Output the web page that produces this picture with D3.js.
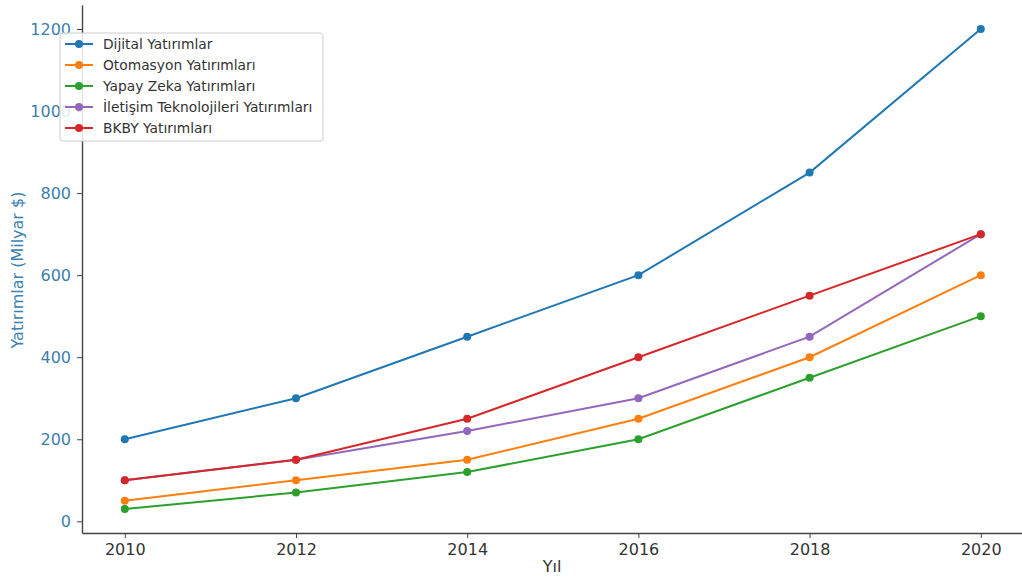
<!DOCTYPE html>
<html>
<head>
<meta charset="utf-8">
<script src="https://cdn.jsdelivr.net/npm/d3@7"></script>
<style>
  body { margin: 0; background: #fff; }
  svg { font-family: "DejaVu Sans", sans-serif; }
</style>
</head>
<body>
<svg id="chart" width="1022" height="578"></svg>
<script>
const years = [2010, 2012, 2014, 2016, 2018, 2020];
const seriesNames = ["Dijital Yatırımlar", "Otomasyon Yatırımları", "Yapay Zeka Yatırımları", "İletişim Teknolojileri Yatırımları", "BKBY Yatırımları"];
const dijital = [200, 300, 450, 600, 850, 1200];
const otomasyon = [50, 100, 150, 250, 400, 600];
const yapayZeka = [30, 70, 120, 200, 350, 500];
const iletisim = [100, 150, 220, 300, 450, 700];
const bkby = [100, 150, 250, 400, 550, 700];
const yTicks = [0, 200, 400, 600, 800, 1000, 1200];
const colors = ["#1f77b4", "#ff7f0e", "#2ca02c", "#9467bd", "#d62728"];

const allSeries = [dijital, otomasyon, yapayZeka, iletisim, bkby];

const svg = d3.select("#chart");

const x = d3.scaleLinear()
    .domain([2009.5, 2020.5])
    .range([82, 1023.6]);

const y = d3.scaleLinear()
    .domain([-28.5, 1258.5])
    .range([533, 5]);

// axes
const xAxis = svg.append("g")
    .attr("transform", "translate(0,533)")
    .call(d3.axisBottom(x).tickValues(years).tickFormat(d3.format("d"))
        .tickSize(5).tickSizeOuter(0).tickPadding(6));
xAxis.select(".domain").attr("stroke", "#444").attr("stroke-width", 1.4);
xAxis.selectAll(".tick line").attr("stroke", "#444");
xAxis.selectAll("text").attr("font-size", 16).attr("fill", "#333")
    .attr("font-family", "DejaVu Sans");

const yAxis = svg.append("g")
    .attr("transform", "translate(82,0)")
    .call(d3.axisLeft(y).tickValues(yTicks).tickFormat(d3.format("d"))
        .tickSize(5).tickSizeOuter(0).tickPadding(6));
yAxis.select(".domain").attr("stroke", "#444").attr("stroke-width", 1.4);
yAxis.selectAll(".tick line").attr("stroke", "#444");
yAxis.selectAll("text").attr("font-size", 16).attr("fill", "#3d7fab")
    .attr("font-family", "DejaVu Sans");

svg.append("text")
    .attr("x", 552).attr("y", 572)
    .attr("text-anchor", "middle")
    .attr("font-size", 16).attr("fill", "#333")
    .text("Yıl");

svg.append("text")
    .attr("transform", "translate(23,270) rotate(-90)")
    .attr("text-anchor", "middle")
    .attr("font-size", 16).attr("fill", "#3a82b3")
    .text("Yatırımlar (Milyar $)");

// lines
const line = d3.line()
    .x((d, i) => x(years[i]))
    .y(d => y(d));

allSeries.forEach((vals, k) => {
    svg.append("path")
        .datum(vals)
        .attr("fill", "none")
        .attr("stroke", colors[k])
        .attr("stroke-width", 2)
        .attr("d", line);
    svg.selectAll(".pt" + k)
        .data(vals)
        .enter().append("circle")
        .attr("cx", (d, i) => x(years[i]))
        .attr("cy", d => y(d))
        .attr("r", 4)
        .attr("fill", colors[k]);
});

// legend
const legend = svg.append("g").attr("transform", "translate(60,33)");
legend.append("rect")
    .attr("width", 263).attr("height", 108)
    .attr("rx", 3)
    .attr("fill", "#fff").attr("fill-opacity", 0.85)
    .attr("stroke", "#ccc");
seriesNames.forEach((name, k) => {
    const row = legend.append("g").attr("transform", `translate(0,${11 + k * 21})`);
    row.append("line")
        .attr("x1", 5).attr("x2", 33)
        .attr("stroke", colors[k]).attr("stroke-width", 2);
    row.append("circle")
        .attr("cx", 19).attr("r", 4).attr("fill", colors[k]);
    row.append("text")
        .attr("x", 43).attr("dy", "0.35em")
        .attr("font-size", 13.8).attr("fill", "#333")
        .text(name);
});
</script>
</body>
</html>
